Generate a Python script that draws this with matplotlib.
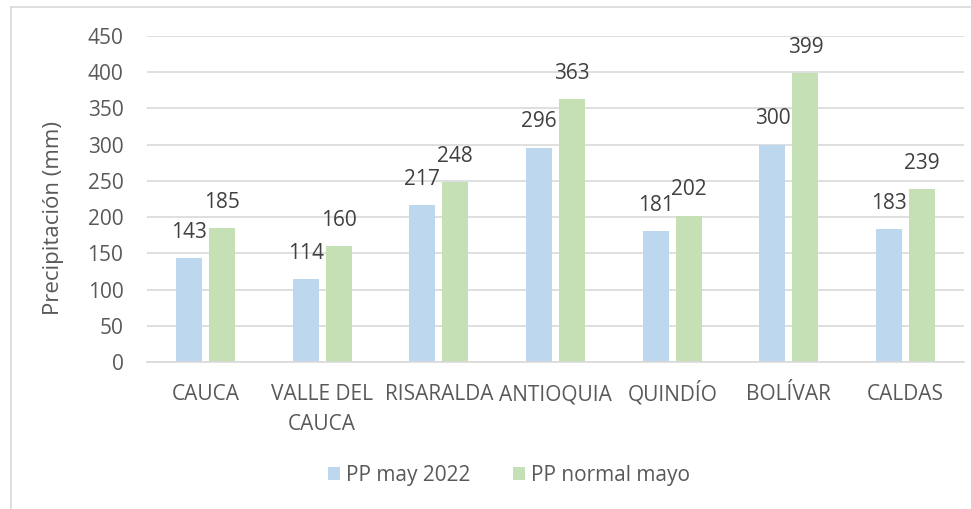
import matplotlib
matplotlib.use("Agg")
import matplotlib.pyplot as plt
from matplotlib.lines import Line2D
from matplotlib.patches import Patch
from matplotlib.transforms import ScaledTranslation
import numpy as np

categories = ["CAUCA", "VALLE DEL\nCAUCA", "RISARALDA", "ANTIOQUIA", "QUINDÍO", "BOLÍVAR", "CALDAS"]
pp_may_2022 = [143, 114, 217, 296, 181, 300, 183]
pp_normal_mayo = [185, 160, 248, 363, 202, 399, 239]
series_names = ["PP may 2022", "PP normal mayo"]
yticks = [0, 50, 100, 150, 200, 250, 300, 350, 400, 450]

blue = "#BDD7EE"
green = "#C5E0B4"
txt = "#595959"
grid = "#D9D9D9"

plt.rcParams['font.family'] = ['Open Sans', 'DejaVu Sans']

W, H = 971, 509
fig = plt.figure(figsize=(W/100, H/100), dpi=100)
ax = fig.add_axes([147/W, 1-362/H, 817/W, 326/H])

x = np.arange(len(categories))
bw = 0.223
off = 0.141
b1 = ax.bar(x - off, pp_may_2022, bw, color=blue, label=series_names[0], zorder=2)
b2 = ax.bar(x + off, pp_normal_mayo, bw, color=green, label=series_names[1], zorder=2)

for bars, vals in ((b1, pp_may_2022), (b2, pp_normal_mayo)):
    for r, v in zip(bars, vals):
        ax.annotate(f"{v}", (r.get_x() + r.get_width()/2, v), xytext=(0, 11),
                    textcoords="offset points", ha="center", va="bottom",
                    fontsize=15, color="#404040")

ax.set_xlim(-0.5, len(categories) - 0.5)
ax.set_ylim(0, 450)
ax.set_yticks(yticks)
ax.yaxis.grid(True, color=grid, linewidth=1.2, zorder=0)
ax.set_axisbelow(True)
for s in ("top", "right", "left"):
    ax.spines[s].set_visible(False)
ax.spines["bottom"].set_color(grid)
ax.spines["bottom"].set_linewidth(1.2)
ax.tick_params(axis="both", length=0, labelsize=15, labelcolor=txt)
ax.tick_params(axis="y", pad=17)
ax.set_xticks(x)
ax.set_xticklabels([""] * len(categories))

# category labels, aligned on the first-line baseline
for xi, cat in zip(x, categories):
    for i, line in enumerate(cat.split("\n")):
        tr = ax.get_xaxis_transform() + ScaledTranslation(0, -(38 + 30 * i) / 100, fig.dpi_scale_trans)
        ax.text(xi, 0, line, transform=tr, ha="center", va="baseline",
                fontsize=15, color=txt, clip_on=False)

ax.set_ylabel("Precipitación (mm)", fontsize=16, color=txt, va="center")
ax.yaxis.set_label_coords((54 - 147) / 817, (362 - 218) / 326)

handles = [Patch(facecolor=blue, label=series_names[0]), Patch(facecolor=green, label=series_names[1])]
fig.legend(handles=handles, loc="center", bbox_to_anchor=(509/W, 1-475/H), ncol=2,
           frameon=False, fontsize=15, labelcolor=txt, handlelength=0.6, handleheight=0.6,
           handletextpad=0.3, columnspacing=2.0)

# chart border
fig.add_artist(Line2D([11/W, 11/W], [0, 1-6.5/H], color=grid, linewidth=1.2))
fig.add_artist(Line2D([11/W, 1], [1-6.5/H, 1-6.5/H], color=grid, linewidth=1.2))

fig.savefig("out.png", dpi=100)
